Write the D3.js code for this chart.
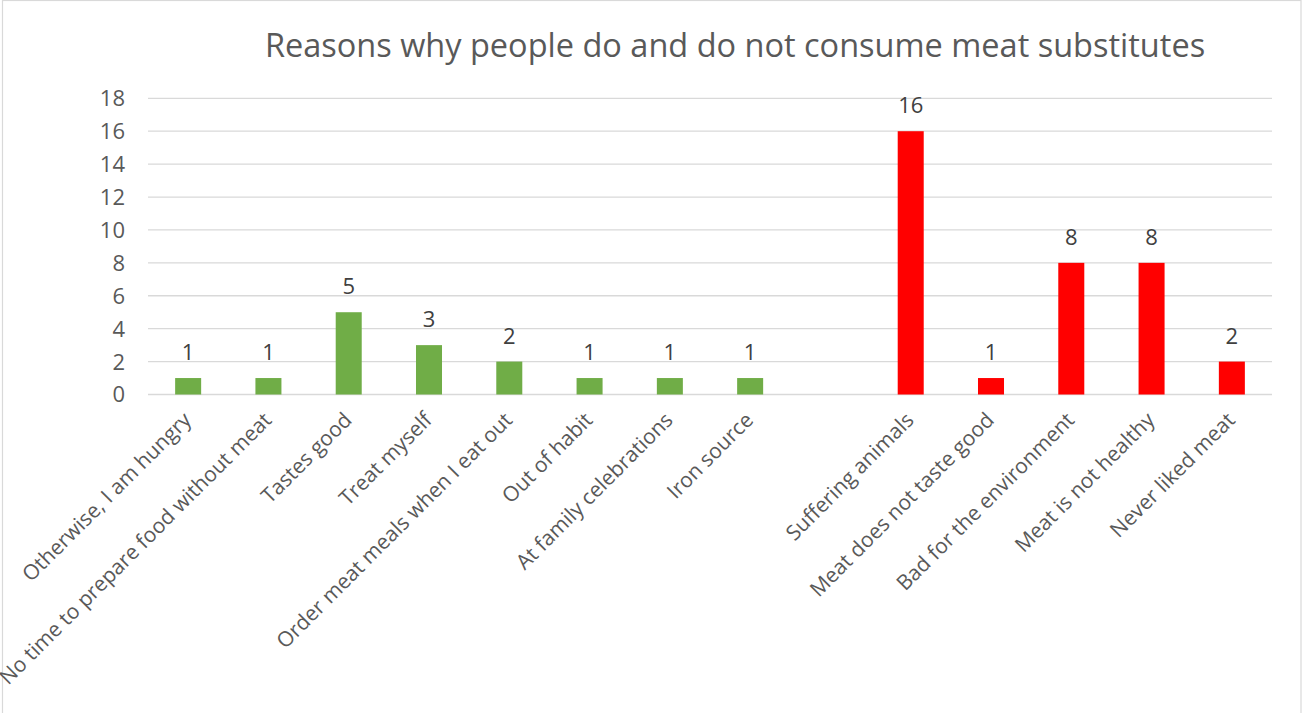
<!DOCTYPE html>
<html>
<head>
<meta charset="utf-8">
<script src="https://cdn.jsdelivr.net/npm/d3@7"></script>
<style>
  html, body { margin: 0; padding: 0; background: #fff; }
  svg { display: block; }
  text { font-family: "Open Sans", "Noto Sans", sans-serif; }
</style>
</head>
<body>
<script>
// Reasons for eating meat (green) and for avoiding it (red)
const doReasons = [
  "Otherwise, I am hungry",
  "No time to prepare food without meat",
  "Tastes good",
  "Treat myself",
  "Order meat meals when I eat out",
  "Out of habit",
  "At family celebrations",
  "Iron source"
];
const doCounts = [1, 1, 5, 3, 2, 1, 1, 1];

const dontReasons = [
  "Suffering animals",
  "Meat does not taste good",
  "Bad for the environment",
  "Meat is not healthy",
  "Never liked meat"
];
const dontCounts = [16, 1, 8, 8, 2];

const yTicks = [0, 2, 4, 6, 8, 10, 12, 14, 16, 18];
const titleText = "Reasons why people do and do not consume meat substitutes";

const W = 1303, H = 713;
const GAP = " ";  // empty slot separating the two groups

const rows = [
  ...doReasons.map((r, i) => ({ cat: r, v: doCounts[i], color: "#70ad47" })),
  ...dontReasons.map((r, i) => ({ cat: r, v: dontCounts[i], color: "#ff0000" }))
];
const domain = [...doReasons, GAP, ...dontReasons];

const svg = d3.select("body").append("svg")
  .attr("width", W).attr("height", H);

// chart frame
svg.append("rect")
  .attr("x", 2.5).attr("y", 0.5)
  .attr("width", 1298.5).attr("height", H + 10)
  .attr("fill", "#fff").attr("stroke", "#d9d9d9").attr("stroke-width", 1.2);

const x = d3.scaleBand().domain(domain).range([148, 1272])
  .paddingInner(0.676).paddingOuter(0.338);
const y = d3.scaleLinear().domain([0, 18]).range([394.5, 98.3]);

// gridlines
svg.append("g").selectAll("line").data(yTicks).join("line")
  .attr("x1", 148).attr("x2", 1272)
  .attr("y1", d => y(d)).attr("y2", d => y(d))
  .attr("stroke", "#d9d9d9").attr("stroke-width", 1.3);

// y tick labels
svg.append("g").selectAll("text").data(yTicks).join("text")
  .attr("x", 125).attr("y", d => y(d))
  .attr("dy", "0.36em")
  .attr("text-anchor", "end")
  .attr("font-size", 22)
  .attr("fill", "#595959")
  .text(d => d);

// bars
svg.append("g").selectAll("rect").data(rows).join("rect")
  .attr("x", d => x(d.cat))
  .attr("y", d => y(d.v))
  .attr("width", x.bandwidth())
  .attr("height", d => y(0) - y(d.v))
  .attr("fill", d => d.color);

// value labels
svg.append("g").selectAll("text").data(rows).join("text")
  .attr("x", d => x(d.cat) + x.bandwidth() / 2)
  .attr("y", d => y(d.v) - 18)
  .attr("text-anchor", "middle")
  .attr("font-size", 22)
  .attr("fill", "#404040")
  .text(d => d.v);

// category labels, rotated
svg.append("g").selectAll("text").data(rows).join("text")
  .attr("transform", d => `translate(${x(d.cat) + x.bandwidth() / 2 - 1},416) rotate(-45)`)
  .attr("dy", "0.36em")
  .attr("text-anchor", "end")
  .attr("font-size", 21)
  .attr("fill", "#595959")
  .text(d => d.cat);

// title
svg.append("text")
  .attr("x", 735).attr("y", 57)
  .attr("text-anchor", "middle")
  .attr("font-size", 32.5)
  .attr("fill", "#595959")
  .text(titleText);
</script>
</body>
</html>
